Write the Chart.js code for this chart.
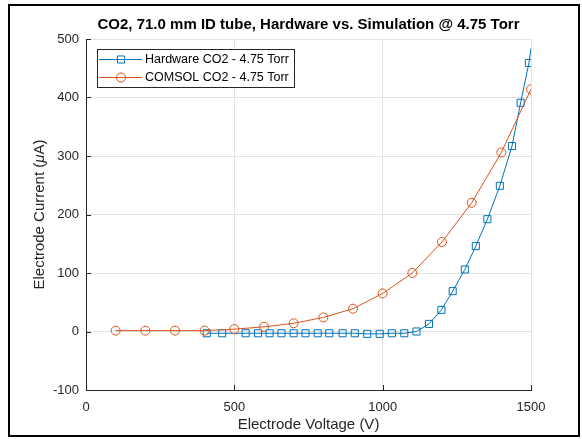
<!DOCTYPE html>
<html>
<head>
<meta charset="utf-8">
<script src="https://cdn.jsdelivr.net/npm/chart.js@4"></script>
<style>
  html, body { margin: 0; padding: 0; background: #fff; }
  #wrap { width: 582px; height: 439px; position: relative; }
</style>
</head>
<body>
<div id="wrap"><canvas id="ivChart"></canvas></div>
<script>
// Data
const hwVoltage = [407, 459, 538, 580, 619, 659, 700, 740, 781, 820, 865, 906, 948, 990,
  1031, 1073, 1114, 1156, 1198, 1236, 1277, 1314, 1353, 1395, 1436, 1465, 1493, 1500];
const hwCurrent = [-3, -3, -3, -3, -3, -3, -3, -3, -3, -3, -3, -3, -4, -4,
  -3, -3, 0, 13, 37, 69, 106, 146, 192, 249, 317, 391, 459, 484];
const simVoltage = [100, 200, 300, 400, 500, 600, 700, 800, 900, 1000, 1100, 1200, 1300, 1400, 1500];
const simCurrent = [1.5, 1.5, 1.5, 1.5, 4, 8, 14, 24, 39, 65, 100, 153, 220, 306, 414];
const xTicks = [0, 500, 1000, 1500];
const yTicks = [-100, 0, 100, 200, 300, 400, 500];

const seriesNames = ["Hardware CO2 - 4.75 Torr", "COMSOL CO2 - 4.75 Torr"];
const titleText = "CO2, 71.0 mm ID tube, Hardware vs. Simulation @ 4.75 Torr";

const BLUE = "#0072BD";
const ORANGE = "#D95319";
const AXIS = "#262626";
const GRID = "#e3e3e3";
const FONT = "'Liberation Sans', Arial, sans-serif";

function toPoints(xs, ys) {
  return xs.map(function (x, i) { return { x: x, y: ys[i] }; });
}

// MATLAB-like extras: figure frame, title, inward ticks, axis labels, legend
const matlabDecor = {
  id: "matlabDecor",
  afterDraw: function (chart) {
    const ctx = chart.ctx;
    const area = chart.chartArea;
    const xs = chart.scales.x;
    const ys = chart.scales.y;
    ctx.save();

    // figure frame
    ctx.strokeStyle = "#000";
    ctx.lineWidth = 2;
    ctx.strokeRect(9, 5, 570, 431);

    // title
    ctx.fillStyle = "#000";
    ctx.font = "bold 15px " + FONT;
    ctx.textAlign = "center";
    ctx.textBaseline = "middle";
    ctx.fillText(titleText, (area.left + area.right) / 2, 25);

    // inward tick marks
    ctx.strokeStyle = AXIS;
    ctx.lineWidth = 1;
    ctx.beginPath();
    xTicks.forEach(function (v) {
      const px = Math.round(xs.getPixelForValue(v)) + 0.5;
      ctx.moveTo(px, area.bottom);
      ctx.lineTo(px, area.bottom - 5);
    });
    yTicks.forEach(function (v) {
      const py = Math.round(ys.getPixelForValue(v)) + 0.5;
      ctx.moveTo(area.left, py);
      ctx.lineTo(area.left + 5, py);
    });
    ctx.stroke();

    // x axis label
    ctx.fillStyle = AXIS;
    ctx.font = "15px " + FONT;
    ctx.textAlign = "center";
    ctx.textBaseline = "middle";
    ctx.fillText("Electrode Voltage (V)", (area.left + area.right) / 2, 425);

    // y axis label with italic mu
    const parts = [
      { t: "Electrode Current (", f: "15px " + FONT },
      { t: "\u03bc", f: "italic 15px " + FONT },
      { t: "A)", f: "15px " + FONT }
    ];
    let total = 0;
    parts.forEach(function (p) { ctx.font = p.f; p.w = ctx.measureText(p.t).width; total += p.w; });
    ctx.translate(40, (area.top + area.bottom) / 2);
    ctx.rotate(-Math.PI / 2);
    ctx.textAlign = "left";
    let cx = -total / 2;
    parts.forEach(function (p) { ctx.font = p.f; ctx.fillText(p.t, cx, 0); cx += p.w; });
    ctx.setTransform(1, 0, 0, 1, 0, 0);

    // legend box
    const lx = 97, ly = 49, lw = 197, lh = 38;
    ctx.fillStyle = "#fff";
    ctx.fillRect(lx, ly, lw, lh);
    ctx.strokeStyle = AXIS;
    ctx.lineWidth = 1;
    ctx.strokeRect(lx + 0.5, ly + 0.5, lw, lh);
    const rows = [
      { name: seriesNames[0], color: BLUE, style: "rect", r: 5, y: 59 },
      { name: seriesNames[1], color: ORANGE, style: "circle", r: 4.5, y: 77 }
    ];
    rows.forEach(function (row) {
      ctx.strokeStyle = row.color;
      ctx.lineWidth = 1;
      ctx.beginPath();
      ctx.moveTo(99, row.y + 0.5);
      ctx.lineTo(142, row.y + 0.5);
      ctx.stroke();
      ctx.fillStyle = "rgba(0,0,0,0)";
      Chart.helpers.drawPoint(ctx, {
        pointStyle: row.style, radius: row.r, borderWidth: 1, rotation: 0
      }, 121, row.y + 0.5);
      ctx.fillStyle = "#000";
      ctx.font = "12.5px " + FONT;
      ctx.textAlign = "left";
      ctx.textBaseline = "middle";
      ctx.fillText(row.name, 145, row.y + 0.5);
    });

    ctx.restore();
  }
};

const lastHw = hwVoltage.length - 1;

new Chart(document.getElementById("ivChart").getContext("2d"), {
  type: "scatter",
  data: {
    datasets: [
      {
        label: seriesNames[1],
        data: toPoints(simVoltage, simCurrent),
        showLine: true,
        borderColor: ORANGE,
        borderWidth: 1,
        pointStyle: "circle",
        pointRadius: 4.5,
        pointBorderWidth: 1,
        pointBorderColor: ORANGE,
        pointBackgroundColor: "rgba(0,0,0,0)",
        tension: 0,
      },
      {
        label: seriesNames[0],
        data: toPoints(hwVoltage, hwCurrent),
        showLine: true,
        borderColor: BLUE,
        borderWidth: 1,
        pointStyle: "rect",
        pointRadius: function (c) { return c.dataIndex === lastHw ? 0 : 5; },
        pointBorderWidth: 1,
        pointBorderColor: BLUE,
        pointBackgroundColor: "rgba(0,0,0,0)",
        tension: 0,
      },
    ],
  },
  options: {
    responsive: true,
    maintainAspectRatio: false,
    animation: false,
    layout: { padding: { top: 39, right: 51, left: 0, bottom: 0 } },
    plugins: {
      legend: { display: false },
      title: { display: false },
      tooltip: { enabled: false },
    },
    scales: {
      x: {
        type: "linear",
        min: 0,
        max: 1500,
        afterBuildTicks: function (scale) { scale.ticks = xTicks.map(function (v) { return { value: v }; }); },
        afterFit: function (scale) { scale.height = 49; },
        grid: { color: GRID, drawTicks: false },
        border: { color: AXIS, width: 1 },
        ticks: {
          color: AXIS, padding: 10, font: { family: FONT, size: 13 }, maxRotation: 0,
          callback: function (value) { return String(value); },
        },
      },
      y: {
        type: "linear",
        min: -100,
        max: 500,
        afterBuildTicks: function (scale) { scale.ticks = yTicks.map(function (v) { return { value: v }; }); },
        afterFit: function (scale) { scale.width = 86; },
        grid: { color: GRID, drawTicks: false },
        border: { color: AXIS, width: 1 },
        ticks: {
          color: AXIS, padding: 7, font: { family: FONT, size: 13 },
          callback: function (value) { return String(value); },
        },
      },
    },
  },
  plugins: [matlabDecor],
});
</script>
</body>
</html>
